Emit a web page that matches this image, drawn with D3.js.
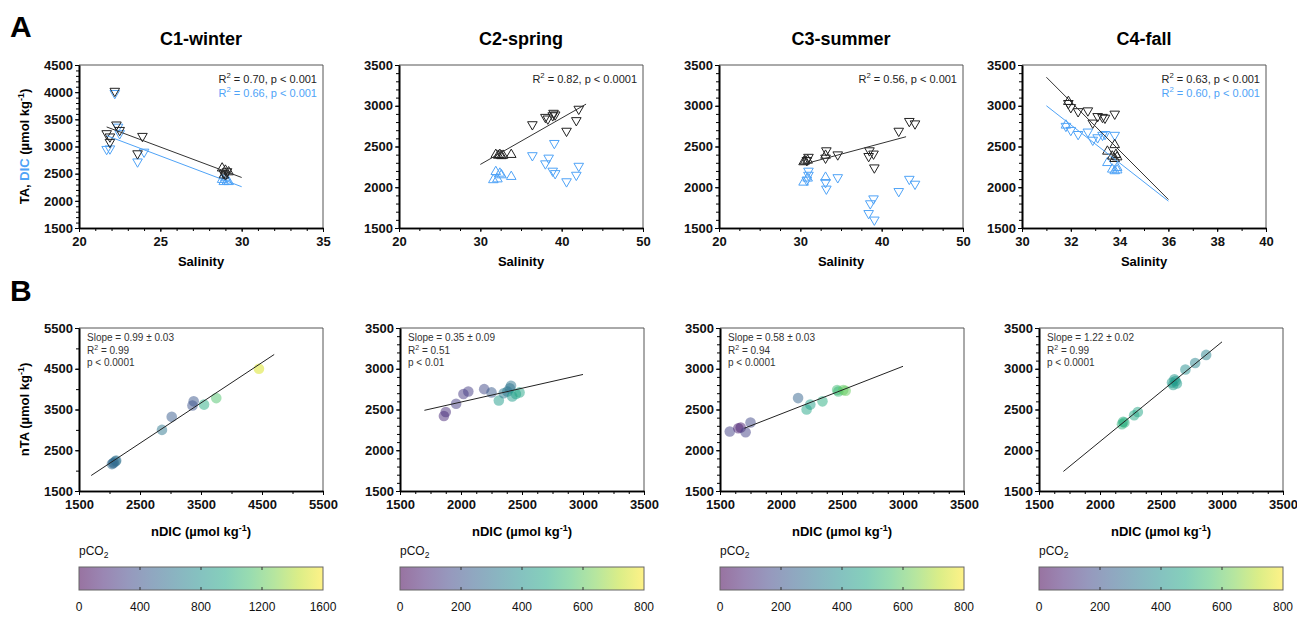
<!DOCTYPE html>
<html>
<head>
<meta charset="utf-8">
<script src="https://cdn.jsdelivr.net/npm/d3@7"></script>
<style>
  body { margin: 0; background: #fff; }
  svg { font-family: "Liberation Sans", Arial, sans-serif; }
</style>
</head>
<body>
<svg id="fig" width="1297" height="617"></svg>
<script>
// ---------- data ----------
var seasons = ["C1-winter", "C2-spring", "C3-summer", "C4-fall"];

// panel A : [salinity, value, marker]  d = down triangle, u = up triangle
var c1TA = [[22.2,4020,"d"],[22.3,3400,"d"],[22.5,3300,"d"],[21.7,3240,"d"],[21.9,3180,"d"],[21.9,3080,"d"],
            [23.9,3190,"d"],[23.6,2870,"d"],[28.9,2510,"d"],[29.1,2540,"d"],[29.0,2480,"d"],
            [28.8,2600,"u"],[29.0,2560,"u"],[29.2,2530,"u"],[28.9,2470,"u"]];
var c1DIC = [[22.2,3980,"d"],[22.4,3360,"d"],[22.5,3240,"d"],[21.7,2950,"d"],[21.9,2960,"d"],[23.6,2720,"d"],
             [24.0,2900,"d"],[28.8,2390,"u"],[28.9,2350,"u"],[29.0,2420,"u"],[29.1,2360,"u"],[29.2,2350,"u"]];
var c2TA = [[36.4,2770,"d"],[38.0,2860,"d"],[38.3,2840,"d"],[38.9,2880,"d"],[39.0,2910,"d"],[39.2,2890,"d"],
            [40.6,2690,"d"],[41.8,2820,"d"],[42.1,2960,"d"],
            [31.9,2400,"u"],[32.2,2390,"u"],[32.4,2400,"u"],[32.6,2385,"u"],[32.8,2390,"u"],[33.8,2400,"u"]];
var c2DIC = [[36.4,2390,"d"],[38.4,2360,"d"],[38.0,2290,"d"],[39.1,2540,"d"],[38.9,2200,"d"],[39.2,2170,"d"],
             [40.6,2070,"d"],[41.8,2150,"d"],[42.1,2260,"d"],
             [31.6,2090,"u"],[31.9,2190,"u"],[32.1,2100,"u"],[32.4,2170,"u"],[32.6,2150,"u"],[33.8,2130,"u"]];
var c3TA = [[43.4,2810,"d"],[44.1,2780,"d"],[42.1,2690,"d"],[38.5,2450,"d"],[38.4,2380,"d"],[39.0,2410,"d"],
            [39.1,2240,"d"],[34.6,2400,"d"],[33.2,2450,"d"],[33.1,2360,"d"],[31.0,2370,"d"],[30.8,2330,"d"],
            [30.4,2310,"u"],[30.6,2320,"u"],[30.9,2330,"u"],[33.1,2390,"u"]];
var c3DIC = [[31.0,2200,"d"],[31.0,2150,"d"],[30.8,2090,"d"],[33.2,1980,"d"],[33.1,2060,"d"],[34.6,2120,"d"],
             [38.4,1680,"d"],[38.6,1800,"d"],[39.0,1860,"d"],[39.1,1600,"d"],[42.1,1950,"d"],[43.4,2100,"d"],
             [44.1,2040,"d"],[30.4,2060,"u"],[33.1,2120,"u"],[30.9,2110,"u"]];
var c4TA = [[31.9,3030,"d"],[32.0,2980,"d"],[32.3,2930,"d"],[32.7,2940,"d"],[32.9,2790,"d"],[33.1,2870,"d"],
            [33.3,2860,"d"],[33.4,2850,"d"],[33.8,2900,"d"],
            [31.9,3050,"u"],[33.8,2520,"u"],[33.5,2440,"u"],[33.7,2380,"u"],[33.8,2350,"u"],[33.9,2370,"u"],[33.85,2400,"u"]];
var c4DIC = [[31.8,2750,"d"],[32.0,2700,"d"],[32.3,2650,"d"],[32.7,2680,"d"],[32.9,2580,"d"],[33.1,2610,"d"],
             [33.3,2640,"d"],[33.4,2650,"d"],[33.8,2640,"d"],
             [31.8,2760,"u"],[33.5,2300,"u"],[33.7,2220,"u"],[33.8,2200,"u"],[33.9,2210,"u"],[33.9,2240,"u"]];

// regression lines (end points, data units)
var c1TAFit = [[21.7,3360],[30,2430]], c1DICFit = [[21.7,3200],[30,2260]];
var c2TAFit = [[30,2280],[43,3020]];
var c3TAFit = [[30.3,2280],[43,2620]];
var c4TAFit = [[31,3350],[36,1850]], c4DICFit = [[31,3000],[36,1830]];

var r2TA  = ["0.70, p < 0.001", "0.82, p < 0.0001", "0.56, p < 0.001", "0.63, p < 0.001"];
var r2DIC = ["0.66, p < 0.001", null, null, "0.60, p < 0.001"];

var salDomains = [[20,35],[20,50],[20,50],[30,40]];
var salTicks = [[20,25,30,35],[20,30,40,50],[20,30,40,50],[30,32,34,36,38,40]];
var salMinorStep = [1, 2.5, 2.5, 1];
var yDomainsA = [[1500,4500],[1500,3500],[1500,3500],[1500,3500]];
var yTicksA = [[1500,2000,2500,3000,3500,4000,4500],[1500,2000,2500,3000,3500],
               [1500,2000,2500,3000,3500],[1500,2000,2500,3000,3500]];

// panel B : [nDIC, nTA, pCO2]
var b1 = [[4450,4500,1500],[3750,3780,1150],[3550,3620,980],[3380,3700,420],[3360,3600,400],[3020,3320,450],
          [2860,3000,620],[2040,2160,560],[2070,2200,580],[2100,2230,560],[2110,2250,600],[2060,2180,520]];
var b2 = [[1860,2420,90],[1875,2470,100],[1960,2570,140],[2020,2690,130],[2060,2720,140],[2190,2750,170],
          [2250,2710,220],[2310,2610,440],[2350,2700,320],[2380,2720,330],[2400,2760,300],[2410,2790,310],
          [2420,2660,440],[2450,2690,460],[2480,2710,470]];
var b3 = [[1580,2230,150],[1650,2270,70],[1670,2280,60],[1710,2220,150],[1750,2340,170],[2140,2640,250],
          [2210,2500,470],[2240,2560,450],[2340,2600,500],[2460,2740,550],[2470,2720,540],[2510,2740,600],
          [2530,2730,610]];
var b4 = [[2180,2320,520],[2200,2340,510],[2190,2350,500],[2280,2430,480],[2310,2470,470],[2590,2830,430],
          [2600,2800,440],[2610,2870,420],[2630,2820,440],[2620,2850,430],[2700,2990,390],[2780,3070,360],
          [2870,3170,360]];
var bFits = [[[1700,1880],[4700,4850]], [[1700,2490],[3000,2930]], [[1700,2270],[3000,3030]], [[1700,1740],[3000,3330]]];
var slopes = ["0.99 \u00b1 0.03", "0.35 \u00b1 0.09", "0.58 \u00b1 0.03", "1.22 \u00b1 0.02"];
var r2B = ["0.99", "0.51", "0.94", "0.99"];
var pB = ["p < 0.0001", "p < 0.01", "p < 0.0001", "p < 0.0001"];

var bDomains = [[1500,5500],[1500,3500],[1500,3500],[1500,3500]];
var bTicks = [[1500,2500,3500,4500,5500],[1500,2000,2500,3000,3500],[1500,2000,2500,3000,3500],[1500,2000,2500,3000,3500]];
var bMinorX = [500, 125, 125, 125];
var bMinorY = [500, 100, 100, 100];

var pco2Max = [1600, 800, 800, 800];
var pco2Ticks = [[0,400,800,1200,1600],[0,200,400,600,800],[0,200,400,600,800],[0,200,400,600,800]];

// ---------- layout ----------
var svg = d3.select("#fig");
var PW = 244;
var aLeft = [79, 399, 719, 1022], aTop = 65, aBot = 228;
var bLeft = [79, 400, 720, 1039], bTop = 328, bBot = 491;
var blue = "#4fa3f7";

function minorVals(dom, step) {
  return d3.range(dom[0], dom[1] + 1e-9, step);
}

function addSup(t, base, sup, rest, fsz) {
  t.append("tspan").text(base);
  t.append("tspan").attr("dy", -fsz * 0.42).attr("font-size", fsz * 0.7).text(sup);
  t.append("tspan").attr("dy", fsz * 0.42).text(rest);
}

function frame(x, y, xt, xm, yt, ym) {
  var g = svg.append("g");
  var x0 = x.range()[0], x1 = x.range()[1], y0 = y.range()[1], y1 = y.range()[0];
  g.append("line").attr("x1", x0).attr("x2", x1).attr("y1", y0).attr("y2", y0).attr("stroke", "#555");
  g.append("line").attr("x1", x1).attr("x2", x1).attr("y1", y0).attr("y2", y1).attr("stroke", "#555");

  var xg = g.append("g").attr("transform", "translate(0," + y1 + ")");
  xg.call(d3.axisBottom(x).tickValues(xm).tickSize(3).tickFormat("").tickSizeOuter(0));
  xg.append("g").call(d3.axisBottom(x).tickValues(xt).tickSize(4).tickPadding(5).tickSizeOuter(0).tickFormat(d3.format("d")));
  var yg = g.append("g").attr("transform", "translate(" + x0 + ",0)");
  yg.call(d3.axisLeft(y).tickValues(ym).tickSize(3).tickFormat("").tickSizeOuter(0));
  yg.append("g").call(d3.axisLeft(y).tickValues(yt).tickSize(4).tickPadding(2).tickSizeOuter(0).tickFormat(d3.format("d")));

  g.selectAll(".domain").attr("stroke", "#000").attr("stroke-width", 1.6);
  g.selectAll(".tick line").attr("stroke", "#000").attr("stroke-width", 1);
  g.selectAll(".tick text").attr("font-family", "Liberation Sans, Arial, sans-serif")
    .attr("font-size", 13).attr("font-weight", "bold").attr("fill", "#111");
  return g;
}

var tri = d3.symbol(d3.symbolTriangle, 40);

function markers(g, x, y, data, col) {
  g.selectAll(null).data(data).enter().append("path")
    .attr("d", tri)
    .attr("transform", function(d) {
      return "translate(" + x(d[0]) + "," + y(d[1]) + ")" + (d[2] === "d" ? " rotate(180)" : "");
    })
    .attr("fill", "none")
    .attr("stroke", col)
    .attr("stroke-width", 1);
}

function fitLine(g, x, y, pts, col) {
  g.append("path").datum(pts)
    .attr("d", d3.line().x(function(d) { return x(d[0]); }).y(function(d) { return y(d[1]); }))
    .attr("stroke", col).attr("stroke-width", 1).attr("fill", "none");
}

// ---------- panel letters ----------
svg.append("text").attr("x", 10).attr("y", 37).attr("font-size", 30).attr("font-weight", "bold").text("A");
svg.append("text").attr("x", 10).attr("y", 301).attr("font-size", 30).attr("font-weight", "bold").text("B");

// ---------- row A ----------
var taSets = [c1TA, c2TA, c3TA, c4TA];
var dicSets = [c1DIC, c2DIC, c3DIC, c4DIC];
var taFits = [c1TAFit, c2TAFit, c3TAFit, c4TAFit];
var dicFits = [c1DICFit, null, null, c4DICFit];

seasons.forEach(function(name, i) {
  var x = d3.scaleLinear().domain(salDomains[i]).range([aLeft[i], aLeft[i] + PW]);
  var y = d3.scaleLinear().domain(yDomainsA[i]).range([aBot, aTop]);
  frame(x, y, salTicks[i], minorVals(salDomains[i], salMinorStep[i]), yTicksA[i], minorVals(yDomainsA[i], 100));

  var g = svg.append("g");
  markers(g, x, y, dicSets[i], blue);
  markers(g, x, y, taSets[i], "#222");
  if (dicFits[i]) fitLine(g, x, y, dicFits[i], blue);
  fitLine(g, x, y, taFits[i], "#333");

  svg.append("text").attr("x", aLeft[i] + PW / 2).attr("y", 45).attr("text-anchor", "middle")
    .attr("font-size", 18).attr("font-weight", "bold").text(name);
  svg.append("text").attr("x", aLeft[i] + PW / 2).attr("y", 266).attr("text-anchor", "middle")
    .attr("font-size", 13).attr("font-weight", "bold").text("Salinity");

  var t1 = svg.append("text").attr("x", aLeft[i] + PW - 6).attr("y", 83).attr("text-anchor", "end")
    .attr("font-size", 11).attr("fill", "#222");
  addSup(t1, "R", "2", " = " + r2TA[i], 11);
  if (r2DIC[i]) {
    var t2 = svg.append("text").attr("x", aLeft[i] + PW - 6).attr("y", 97).attr("text-anchor", "end")
      .attr("font-size", 11).attr("fill", blue);
    addSup(t2, "R", "2", " = " + r2DIC[i], 11);
  }
});

// y title row A
var yt = svg.append("text").attr("transform", "translate(29," + (aTop + aBot) / 2 + ") rotate(-90)")
  .attr("text-anchor", "middle").attr("font-size", 13).attr("font-weight", "bold");
yt.append("tspan").text("TA, ");
yt.append("tspan").attr("fill", blue).text("DIC");
yt.append("tspan").text(" (\u00b5mol kg");
yt.append("tspan").attr("dy", -5).attr("font-size", 9).text("-1");
yt.append("tspan").attr("dy", 5).text(")");

// ---------- row B ----------
var bSets = [b1, b2, b3, b4];
seasons.forEach(function(name, i) {
  var x = d3.scaleLinear().domain(bDomains[i]).range([bLeft[i], bLeft[i] + PW]);
  var y = d3.scaleLinear().domain(bDomains[i]).range([bBot, bTop]);
  frame(x, y, bTicks[i], minorVals(bDomains[i], bMinorX[i]), bTicks[i], minorVals(bDomains[i], bMinorY[i]));

  var col = d3.scaleSequential(d3.interpolateViridis).domain([0, pco2Max[i]]);
  var g = svg.append("g");
  g.selectAll(null).data(bSets[i]).enter().append("circle")
    .attr("cx", function(d) { return x(d[0]); })
    .attr("cy", function(d) { return y(d[1]); })
    .attr("r", 5.3)
    .attr("fill", function(d) { return col(d[2]); })
    .attr("fill-opacity", 0.5);
  fitLine(g, x, y, bFits[i], "#222");

  var tx = bLeft[i] + 8;
  svg.append("text").attr("x", tx).attr("y", 341).attr("font-size", 10).attr("fill", "#333")
    .text("Slope = " + slopes[i]);
  var r = svg.append("text").attr("x", tx).attr("y", 354).attr("font-size", 10).attr("fill", "#333");
  addSup(r, "R", "2", " = " + r2B[i], 10);
  svg.append("text").attr("x", tx).attr("y", 366).attr("font-size", 10).attr("fill", "#333").text(pB[i]);

  var xt = svg.append("text").attr("x", bLeft[i] + PW / 2).attr("y", 536).attr("text-anchor", "middle")
    .attr("font-size", 13).attr("font-weight", "bold");
  xt.append("tspan").text("nDIC (\u00b5mol kg");
  xt.append("tspan").attr("dy", -5).attr("font-size", 9).text("-1");
  xt.append("tspan").attr("dy", 5).text(")");

  // colour bar
  var cb = d3.scaleLinear().domain([0, pco2Max[i]]).range([bLeft[i], bLeft[i] + PW]);
  var gid = "grad" + i;
  var grad = svg.append("defs").append("linearGradient").attr("id", gid);
  d3.range(0, 1.0001, 0.1).forEach(function(t) {
    grad.append("stop").attr("offset", t).attr("stop-color", d3.interpolateViridis(t)).attr("stop-opacity", 0.55);
  });
  var cg = svg.append("g");
  cg.append("rect").attr("x", bLeft[i]).attr("y", 567).attr("width", PW).attr("height", 23)
    .attr("fill", "url(#" + gid + ")").attr("stroke", "#666").attr("stroke-width", 1);
  var inner = pco2Ticks[i].slice(1, -1);
  cg.selectAll(null).data(inner).enter().append("line")
    .attr("x1", function(d) { return cb(d); }).attr("x2", function(d) { return cb(d); })
    .attr("y1", 567).attr("y2", 570).attr("stroke", "#333");
  cg.selectAll(null).data(inner).enter().append("line")
    .attr("x1", function(d) { return cb(d); }).attr("x2", function(d) { return cb(d); })
    .attr("y1", 587).attr("y2", 590).attr("stroke", "#333");
  cg.selectAll(null).data(pco2Ticks[i]).enter().append("text")
    .attr("x", function(d) { return cb(d); }).attr("y", 611).attr("text-anchor", "middle")
    .attr("font-size", 12).attr("fill", "#111").text(function(d) { return d; });
  var pl = cg.append("text").attr("x", bLeft[i]).attr("y", 555).attr("font-size", 12).attr("fill", "#111");
  pl.append("tspan").text("pCO");
  pl.append("tspan").attr("dy", 3).attr("font-size", 8.5).text("2");
});

var yb = svg.append("text").attr("transform", "translate(29," + (bTop + bBot) / 2 + ") rotate(-90)")
  .attr("text-anchor", "middle").attr("font-size", 13).attr("font-weight", "bold");
yb.append("tspan").text("nTA (\u00b5mol kg");
yb.append("tspan").attr("dy", -5).attr("font-size", 9).text("-1");
yb.append("tspan").attr("dy", 5).text(")");
</script>
</body>
</html>
